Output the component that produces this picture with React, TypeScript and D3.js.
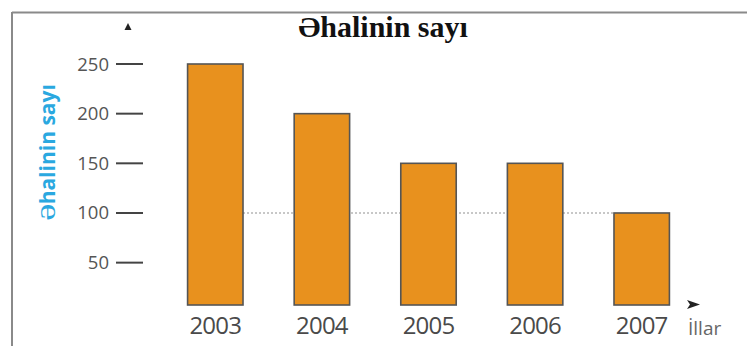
import React from "react";
import * as d3 from "d3";

const years = ["2003", "2004", "2005", "2006", "2007"];
const population = [250, 200, 150, 150, 100];
const yTicks = [50, 100, 150, 200, 250];
const title = "Əhalinin sayı";
const yTitle = "Əhalinin sayı";
const xTitle = "İllar";

export default function App() {
  const W = 747, H = 346;
  const x = d3.scaleBand<string>().domain(years).range([162, 695]).paddingInner(0.48).paddingOuter(0.24);
  const y = d3.scaleLinear().domain([0, 250]).range([312.3, 64]);
  const baseline = 305;
  const bw = x.bandwidth();
  return (
    <svg width={W} height={H} style={{ position: "absolute", left: 0, top: 0, background: "#fff" }}>
      <rect x={0} y={0} width={W} height={H} fill="#fff" />
      {/* frame */}
      <line x1={12} y1={12.5} x2={W} y2={12.5} stroke="#8a8a8a" strokeWidth={2} />
      <line x1={12} y1={12} x2={12} y2={H} stroke="#8a8a8a" strokeWidth={2} />
      {/* title */}
      <text x={383} y={37} textAnchor="middle" fontFamily="Liberation Serif" fontWeight="bold" fontSize={30} fill="#111">{title}</text>
      {/* y arrow */}
      <path d="M128,23 L131.5,30 L124.5,30 Z" fill="#222" />
      {/* y axis title */}
      <text transform={`translate(55,${152}) rotate(-90)`} textAnchor="middle" fontFamily="Open Sans" fontWeight="bold" fontSize={21} fill="#2aa8e0">{yTitle}</text>
      {/* ticks */}
      {yTicks.map((t) => (
        <g key={t}>
          <line x1={116} x2={143} y1={y(t)} y2={y(t)} stroke="#444" strokeWidth={2} />
          <text x={109} y={y(t) + 6.5} textAnchor="end" fontFamily="Open Sans" fontSize={18.5} fill="#555">{t}</text>
        </g>
      ))}
      {/* dotted reference line */}
      <line x1={(x(years[0]) ?? 0) + bw} x2={x(years[4]) ?? 0} y1={y(100)} y2={y(100)} stroke="#b5b5b5" strokeWidth={1.5} strokeDasharray="2,2" />
      {/* bars */}
      {years.map((yr, i) => (
        <rect key={yr} x={x(yr)} y={y(population[i])} width={bw} height={baseline - y(population[i])} fill="#e8911e" stroke="#555" strokeWidth={1.6} />
      ))}
      {/* year labels */}
      {years.map((yr) => (
        <text key={yr} x={(x(yr) ?? 0) + bw / 2} y={334} textAnchor="middle" fontFamily="Open Sans" fontSize={24} letterSpacing={-0.8} fill="#4a4a4a">{yr}</text>
      ))}
      {/* x arrow */}
      <path d="M687,300 L700,304.5 L687,309 L690,304.5 Z" fill="#222" />
      <text x={688} y={335} fontFamily="Open Sans" fontSize={19} fill="#666">{xTitle}</text>
    </svg>
  );
}
